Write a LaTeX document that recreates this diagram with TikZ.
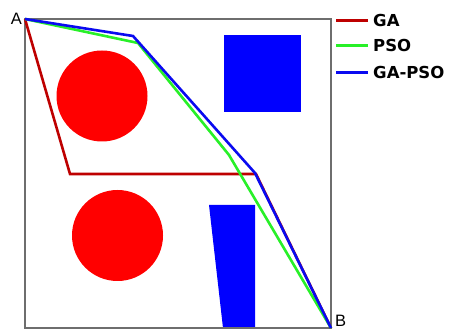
\documentclass[tikz,border=0pt]{standalone}
\usepackage{fontspec}
\setmainfont{Liberation Sans}
\newfontfamily\legfont{DejaVu Sans}
\usepackage{xcolor}
\usepackage{tikz}
\usetikzlibrary{calc,positioning}
\definecolor{gaRed}{RGB}{190,0,0}
\definecolor{psoGreen}{RGB}{40,240,40}
\definecolor{hybBlue}{RGB}{10,10,240}
\definecolor{obsRed}{RGB}{255,0,0}
\definecolor{obsBlue}{RGB}{0,0,255}
\definecolor{frameGray}{RGB}{110,110,110}

\begin{document}
\begin{tikzpicture}[x=1pt,y=-1pt,
  route/.style={line width=2.6pt,line join=miter},
  endlabel/.style={font=\fontsize{16.5}{17}\selectfont,inner sep=0pt},
  legtext/.style={font=\legfont\fontsize{16.5}{18}\selectfont\bfseries,anchor=west,inner sep=0pt}]
\useasboundingbox (0,0) rectangle (450,331);
\fill[white] (0,0) rectangle (450,331);

% obstacles
\fill[obsRed] (102,96) circle[radius=45.5];
\fill[obsRed] (117.5,235.5) circle[radius=45.5];
\fill[obsBlue] (224,35) rectangle (301,112);
\fill[obsBlue] (209,205) -- (255,205) -- (255,328) -- (223,328) -- cycle;

% frame
\draw[frameGray, line width=1.4pt] (25,19) rectangle (331,328);

\coordinate (A) at (25,19);
\coordinate (B) at (331,328);

% routes
\draw[gaRed, route] (A) -- (70,174) -- (256,174) -- (B);
\draw[psoGreen, route] (A) -- (138,43) -- (229,155) -- (B);
\draw[hybBlue, route] (A) -- (133,36) -- (255,173) -- (B);

\node[endlabel, anchor=east] (labA) at (22,19) {A};
\node[endlabel, anchor=north west] (labB) at (335,314.5) {B};

% legend
\draw[gaRed, line width=2.6pt] (336,20.5) coordinate (ga0) -- (368,20.5) coordinate (ga1);
\draw[psoGreen, line width=2.6pt] (336,45.5) coordinate (pso0) -- (368,45.5) coordinate (pso1);
\draw[hybBlue, line width=2.6pt] (336,72.5) coordinate (hyb0) -- (368,72.5) coordinate (hyb1);
\node[legtext, right=5pt of ga1] (legGA) {GA};
\node[legtext, right=5pt of pso1] (legPSO) {PSO};
\node[legtext, right=5pt of hyb1] (legHyb) {GA-PSO};
\end{tikzpicture}
\end{document}
